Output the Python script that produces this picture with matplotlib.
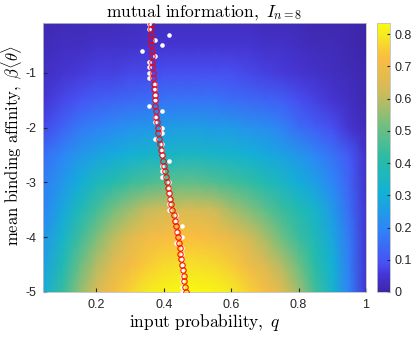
import numpy as np
import matplotlib
matplotlib.use('Agg')
from matplotlib import pyplot as plt
from matplotlib.colors import LinearSegmentedColormap

# grid (rows: beta*<theta>, columns: input probability q)
q_cols = [0.04, 0.10, 0.15, 0.20, 0.25, 0.30, 0.35, 0.40, 0.45, 0.50,
          0.55, 0.60, 0.65, 0.70, 0.75, 0.80, 0.85, 0.90, 0.95, 1.00]
beta_rows = [-5.0, -4.5, -4.0, -3.5, -3.0, -2.5, -2.0, -1.5, -1.0, -0.5, -0.09]
mi_grid = [
    [0.30, 0.43, 0.55, 0.64, 0.71, 0.76, 0.80, 0.82, 0.83, 0.83, 0.82, 0.80, 0.76, 0.72, 0.66, 0.57, 0.45, 0.33, 0.19, 0.05],
    [0.26, 0.38, 0.50, 0.59, 0.66, 0.71, 0.75, 0.77, 0.78, 0.78, 0.77, 0.75, 0.70, 0.65, 0.59, 0.51, 0.41, 0.31, 0.18, 0.05],
    [0.23, 0.33, 0.44, 0.53, 0.60, 0.66, 0.70, 0.72, 0.73, 0.73, 0.71, 0.68, 0.63, 0.58, 0.51, 0.44, 0.37, 0.28, 0.17, 0.05],
    [0.19, 0.28, 0.37, 0.45, 0.52, 0.57, 0.61, 0.63, 0.64, 0.64, 0.62, 0.58, 0.54, 0.49, 0.44, 0.39, 0.33, 0.25, 0.15, 0.05],
    [0.18, 0.24, 0.30, 0.36, 0.40, 0.44, 0.46, 0.48, 0.49, 0.49, 0.47, 0.45, 0.43, 0.39, 0.35, 0.30, 0.26, 0.20, 0.13, 0.04],
    [0.15, 0.20, 0.24, 0.27, 0.29, 0.31, 0.33, 0.34, 0.35, 0.35, 0.34, 0.33, 0.31, 0.29, 0.27, 0.24, 0.20, 0.16, 0.11, 0.04],
    [0.08, 0.13, 0.17, 0.19, 0.21, 0.23, 0.24, 0.25, 0.26, 0.26, 0.25, 0.25, 0.23, 0.22, 0.19, 0.15, 0.12, 0.09, 0.05, 0.02],
    [0.05, 0.08, 0.10, 0.12, 0.13, 0.14, 0.15, 0.16, 0.16, 0.16, 0.16, 0.15, 0.14, 0.13, 0.12, 0.09, 0.07, 0.05, 0.03, 0.01],
    [0.03, 0.05, 0.06, 0.07, 0.07, 0.08, 0.08, 0.09, 0.09, 0.09, 0.09, 0.09, 0.08, 0.07, 0.06, 0.05, 0.04, 0.03, 0.02, 0.01],
    [0.02, 0.03, 0.03, 0.04, 0.04, 0.04, 0.05, 0.05, 0.05, 0.05, 0.05, 0.05, 0.05, 0.04, 0.04, 0.03, 0.02, 0.02, 0.01, 0.00],
    [0.01, 0.02, 0.02, 0.02, 0.02, 0.03, 0.03, 0.03, 0.03, 0.03, 0.03, 0.03, 0.03, 0.02, 0.02, 0.02, 0.01, 0.01, 0.01, 0.00],
]

# optimum per beta step (-0.1 ... -5.0)
beta_steps = np.round(-0.1 * np.arange(1, 51), 1)
q_optimal = [0.362, 0.362, 0.363, 0.363, 0.363, 0.364, 0.364, 0.365, 0.366, 0.367,
             0.367, 0.370, 0.370, 0.373, 0.373, 0.375, 0.376, 0.378, 0.381, 0.382,
             0.384, 0.387, 0.389, 0.392, 0.394, 0.397, 0.401, 0.404, 0.406, 0.411,
             0.414, 0.417, 0.420, 0.423, 0.426, 0.432, 0.434, 0.435, 0.439, 0.441,
             0.444, 0.447, 0.449, 0.452, 0.454, 0.457, 0.459, 0.460, 0.463, 0.465]
q_sampled = [0.355, 0.355, 0.415, 0.375, 0.395, 0.335, 0.375, 0.355, 0.355, 0.355,
             0.355, 0.375, 0.375, 0.375, 0.375, 0.355, 0.395, 0.375, 0.375, 0.395,
             0.395, 0.375, 0.395, 0.395, 0.395, 0.415, 0.395, 0.395, 0.395, 0.415,
             0.415, 0.415, 0.415, 0.415, 0.415, 0.435, 0.435, 0.455, 0.435, 0.455,
             0.435, 0.455, 0.455, 0.455, 0.455, 0.455, 0.455, 0.455, 0.455, 0.455]

x_ticks = [0.2, 0.4, 0.6, 0.8, 1.0]
x_tick_labels = ['0.2', '0.4', '0.6', '0.8', '1']
y_ticks = [-5, -4, -3, -2, -1]
y_tick_labels = ['-5', '-4', '-3', '-2', '-1']
cbar_ticks = [0, 0.1, 0.2, 0.3, 0.4, 0.5, 0.6, 0.7, 0.8]
cbar_tick_labels = ['0', '0.1', '0.2', '0.3', '0.4', '0.5', '0.6', '0.7', '0.8']

# parula-like colour map (matplotlib has none built in)
parula = LinearSegmentedColormap.from_list('parula', [
    (0.000, (0.2422, 0.1504, 0.6603)),
    (0.063, (0.2710, 0.2110, 0.8330)),
    (0.111, (0.2810, 0.3228, 0.9579)),
    (0.238, (0.1786, 0.5289, 0.9682)),
    (0.365, (0.0689, 0.6948, 0.8394)),
    (0.492, (0.1540, 0.7359, 0.6541)),
    (0.619, (0.4420, 0.7481, 0.5033)),
    (0.746, (0.8185, 0.7327, 0.3498)),
    (0.873, (0.9856, 0.7372, 0.2537)),
    (0.952, (0.9597, 0.9059, 0.1428)),
    (1.000, (0.9763, 0.9831, 0.0538)),
])

plt.rcParams['mathtext.fontset'] = 'cm'
plt.rcParams['font.family'] = ['Liberation Sans', 'DejaVu Sans']

fig = plt.figure(figsize=(4.15, 3.37), dpi=100)
ax = fig.add_axes([43 / 415, 1 - 292 / 337, 323 / 415, 269 / 337])
cax = fig.add_axes([377 / 415, 1 - 292 / 337, 13 / 415, 269 / 337])

mesh = ax.pcolormesh(q_cols, beta_rows, np.array(mi_grid), shading='gouraud',
                     cmap=parula, vmin=0, vmax=0.835)

# sampled maxima (white) under the optimum (red open circles)
ax.plot(q_sampled, beta_steps, 'o', color='white', markersize=3.3,
        markeredgewidth=0, zorder=3)
ax.plot(q_optimal, beta_steps, 'o', markerfacecolor='none', markeredgecolor='red',
        markersize=3.9, markeredgewidth=0.7, zorder=4)

ax.set_xlim(0.042, 1.0)
ax.set_ylim(-5, -0.09)
ax.set_xticks(x_ticks)
ax.set_xticklabels(x_tick_labels)
ax.set_yticks(y_ticks)
ax.set_yticklabels(y_tick_labels)
ax.tick_params(direction='in', length=3, labelsize=9, colors='#262626', pad=5)
for s in ax.spines.values():
    s.set_color('#bfbfbf')
    s.set_linewidth(0.6)

ax.set_title(r'$\mathrm{mutual\ information},\ I_{n=8}$', fontsize=12.5, pad=2)
ax.set_xlabel(r'$\mathrm{input\ probability},\ q$', fontsize=12.5, labelpad=1)
ax.set_ylabel(r'$\mathrm{mean\ binding\ affinity},\ \beta\langle\theta\rangle$',
              fontsize=12)
ax.yaxis.set_label_coords(-0.058, 0.545)

cb = fig.colorbar(mesh, cax=cax, ticks=cbar_ticks)
cb.ax.set_yticklabels(cbar_tick_labels)
cb.ax.tick_params(direction='in', length=2.5, labelsize=9, colors='#262626', pad=3)
cb.outline.set_edgecolor('#bfbfbf')
cb.outline.set_linewidth(0.6)

fig.savefig('out.png', dpi=100)
